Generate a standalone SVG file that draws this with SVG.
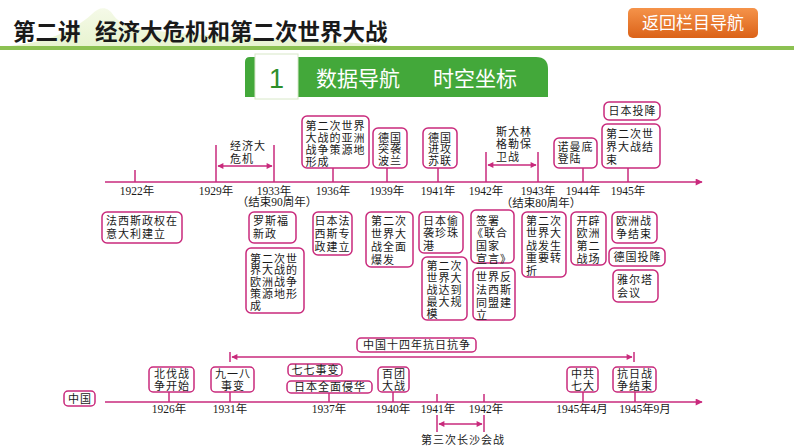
<svg xmlns="http://www.w3.org/2000/svg" width="794" height="447" viewBox="0 0 794 447">
<style>
.box{fill:#fff;stroke:#c92a7c;stroke-width:1.5}
.ln{stroke:#c92a7c;stroke-width:1.5;fill:none}
.t{font-family:"Noto Sans CJK SC","Noto Sans",sans-serif;font-size:11px;letter-spacing:1px;fill:#1a1a1a}
.tc{font-family:"Noto Sans CJK SC","Noto Sans",sans-serif;font-size:11px;letter-spacing:1px;fill:#1a1a1a;text-anchor:middle}
.yr{font-family:"Liberation Serif","Noto Sans CJK SC",serif;font-size:11.5px;fill:#1a1a1a;text-anchor:middle}
</style>
<defs>
<linearGradient id="og" x1="0" y1="0" x2="0" y2="1"><stop offset="0" stop-color="#f5934a"/><stop offset="1" stop-color="#db6218"/></linearGradient>
<linearGradient id="hg" x1="0" y1="0" x2="0" y2="1"><stop offset="0" stop-color="#eef6d8"/><stop offset="1" stop-color="#d8ecb0"/></linearGradient>
<marker id="ax" viewBox="0 0 10 10" refX="9" refY="5" markerWidth="12" markerHeight="7" markerUnits="userSpaceOnUse" orient="auto-start-reverse"><path d="M0,0 L10,5 L0,10 z" fill="#c92a7c"/></marker>
<marker id="sa" viewBox="0 0 10 10" refX="9" refY="5" markerWidth="8" markerHeight="6" markerUnits="userSpaceOnUse" orient="auto-start-reverse"><path d="M0,0 L10,5 L0,10 z" fill="#c92a7c"/></marker>
</defs>
<rect width="794" height="447" fill="#fff"/>
<g id="header">
<path d="M0,47 C40,44 70,34 92,14 C100,6 108,6 114,16 C124,30 160,32 220,36 C300,40 360,42 400,47 Z" fill="url(#hg)" opacity="0.6"/>
<rect x="0" y="46" width="794" height="4" fill="#8cc152"/>
<text x="13" y="40" font-family="Noto Sans CJK SC,sans-serif" font-weight="bold" font-size="22.5" fill="#1a1a1a">第二讲</text>
<text x="95" y="40" font-family="Noto Sans CJK SC,sans-serif" font-weight="bold" font-size="22.5" fill="#1a1a1a">经济大危机和第二次世界大战</text>
</g>
<g id="navbtn">
<rect x="628" y="8" width="130" height="30" rx="5" fill="url(#og)"/>
<text x="693" y="29" text-anchor="middle" font-family="Noto Sans CJK SC,sans-serif" font-size="17" fill="#fff">返回栏目导航</text>
</g>
<g id="section">
<path d="M245,97 L245,62 Q245,57 250,57 L536,57 Q548,57 548,69 L548,97 Z" fill="#43a83a"/>
<rect x="255" y="54" width="43" height="45" fill="#fff" stroke="#d8e8c8" stroke-width="1"/>
<text x="276.5" y="88" text-anchor="middle" font-family="Liberation Sans,sans-serif" font-size="27" fill="#2e8f2a">1</text>
<text x="316" y="86" font-family="Noto Sans CJK SC,sans-serif" font-size="21" fill="#fff">数据导航</text>
<text x="433" y="86" font-family="Noto Sans CJK SC,sans-serif" font-size="21" fill="#fff">时空坐标</text>
</g>

<g id="connectors">
<line class="ln" x1="105" y1="182" x2="702" y2="182" marker-end="url(#ax)"/>
<line class="ln" x1="135" y1="170" x2="135" y2="182"/>
<line class="ln" x1="216" y1="145" x2="216" y2="182"/>
<line class="ln" x1="274" y1="145" x2="274" y2="182"/>
<line class="ln" x1="218" y1="166" x2="272" y2="166" marker-start="url(#sa)" marker-end="url(#sa)"/>
<line class="ln" x1="333" y1="168" x2="333" y2="182"/>
<line class="ln" x1="387" y1="168" x2="387" y2="182"/>
<line class="ln" x1="438" y1="168" x2="438" y2="182"/>
<line class="ln" x1="486" y1="152" x2="486" y2="182"/>
<line class="ln" x1="538" y1="152" x2="538" y2="182"/>
<line class="ln" x1="488" y1="165" x2="536" y2="165" marker-start="url(#sa)" marker-end="url(#sa)"/>
<line class="ln" x1="583" y1="168" x2="583" y2="182"/>
<line class="ln" x1="628" y1="168" x2="628" y2="182"/>
<line class="ln" x1="105" y1="402" x2="702" y2="402" marker-end="url(#ax)"/>
<line class="ln" x1="169" y1="392" x2="169" y2="402"/>
<line class="ln" x1="230" y1="392" x2="230" y2="402"/>
<line class="ln" x1="329" y1="393" x2="329" y2="402"/>
<line class="ln" x1="393" y1="392" x2="393" y2="402"/>
<line class="ln" x1="437" y1="394" x2="437" y2="402"/>
<line class="ln" x1="484" y1="394" x2="484" y2="402"/>
<line class="ln" x1="583" y1="392" x2="583" y2="402"/>
<line class="ln" x1="635" y1="392" x2="635" y2="402"/>
<line class="ln" x1="230" y1="352" x2="230" y2="362"/>
<line class="ln" x1="634" y1="352" x2="634" y2="362"/>
<line class="ln" x1="232" y1="357" x2="632" y2="357" marker-start="url(#sa)" marker-end="url(#sa)"/>
<line class="ln" x1="437" y1="415" x2="437" y2="432"/>
<line class="ln" x1="484" y1="415" x2="484" y2="432"/>
<line class="ln" x1="439" y1="424" x2="482" y2="424" marker-start="url(#sa)" marker-end="url(#sa)"/>
</g>

<g id="years-top">
<text class="yr" x="137" y="195">1922年</text>
<text class="yr" x="216" y="195">1929年</text>
<text class="yr" x="274" y="195">1933年</text>
<text class="yr" x="333" y="195">1936年</text>
<text class="yr" x="387" y="195">1939年</text>
<text class="yr" x="438" y="195">1941年</text>
<text class="yr" x="486" y="195">1942年</text>
<text class="yr" x="538" y="195">1943年</text>
<text class="yr" x="583" y="195">1944年</text>
<text class="yr" x="628" y="195">1945年</text>
<text class="yr" x="277" y="206">（结束90周年）</text>
<text class="yr" x="541" y="207">（结束80周年）</text>
</g>
<g id="years-china">
<text class="yr" x="169" y="413">1926年</text>
<text class="yr" x="230" y="413">1931年</text>
<text class="yr" x="329" y="413">1937年</text>
<text class="yr" x="393" y="413">1940年</text>
<text class="yr" x="438" y="413">1941年</text>
<text class="yr" x="486" y="413">1942年</text>
<text class="yr" x="582" y="413">1945年4月</text>
<text class="yr" x="645" y="413">1945年9月</text>
</g>

<g id="lbl-crisis"><text class="t" x="230" y="150">经济大</text><text class="t" x="230" y="163">危机</text></g>
<g id="lbl-stalingrad"><text class="t" x="496" y="135.5">斯大林</text><text class="t" x="496" y="148">格勒保</text><text class="t" x="496" y="160.5">卫战</text></g>
<g id="lbl-changsha"><text class="tc" x="463" y="443.5">第三次长沙会战</text></g>

<g id="n1936"><rect class="box" x="302" y="116" width="67" height="52" rx="5"/><text class="t" x="305.5" y="130">第二次世界<tspan x="305.5" dy="12">大战的亚洲</tspan><tspan x="305.5" dy="12">战争策源地</tspan><tspan x="305.5" dy="12">形成</tspan></text></g>
<g id="n1939"><rect class="box" x="373" y="128" width="34" height="40" rx="5"/><text class="t" x="378" y="141.5">德国<tspan x="378" dy="11.8">突袭</tspan><tspan x="378" dy="11.8">波兰</tspan></text></g>
<g id="n1941"><rect class="box" x="423" y="128" width="34" height="40" rx="5"/><text class="t" x="428" y="141.5">德国<tspan x="428" dy="11.8">进攻</tspan><tspan x="428" dy="11.8">苏联</tspan></text></g>
<g id="n1944"><rect class="box" x="554" y="138" width="43" height="30" rx="5"/><text class="t" x="557.5" y="150.5">诺曼底<tspan x="557.5" dy="12">登陆</tspan></text></g>
<g id="n1945"><rect class="box" x="602" y="124" width="58" height="44" rx="5"/><text class="t" x="606" y="137.5">第二次世<tspan x="606" dy="13">界大战结</tspan><tspan x="606" dy="13">束</tspan></text></g>
<g id="n-jpsurrender"><rect class="box" x="604" y="102" width="56" height="18" rx="5"/><text class="tc" x="632.5" y="115">日本投降</text></g>

<g id="n-italy"><rect class="box" x="102" y="212" width="80" height="31" rx="5"/><text class="t" x="106" y="224.5">法西斯政权在<tspan x="106" dy="13">意大利建立</tspan></text></g>
<g id="n-newdeal"><rect class="box" x="249" y="212" width="47" height="31" rx="5"/><text class="t" x="253" y="225">罗斯福<tspan x="253" dy="13">新政</tspan></text></g>
<g id="n-europe-src"><rect class="box" x="246" y="248" width="58" height="65" rx="5"/><text class="t" x="250" y="262.5">第二次世<tspan x="250" dy="11.8">界大战的</tspan><tspan x="250" dy="11.8">欧洲战争</tspan><tspan x="250" dy="11.8">策源地形</tspan><tspan x="250" dy="11.8">成</tspan></text></g>
<g id="n-jpfascism"><rect class="box" x="313" y="212" width="39" height="43" rx="5"/><text class="t" x="314.5" y="224.5">日本法<tspan x="314.5" dy="13">西斯专</tspan><tspan x="314.5" dy="13">政建立</tspan></text></g>
<g id="n-fullwar"><rect class="box" x="366" y="212" width="47" height="55" rx="5"/><text class="t" x="371" y="224.5">第二次<tspan x="371" dy="13">世界大</tspan><tspan x="371" dy="13">战全面</tspan><tspan x="371" dy="13">爆发</tspan></text></g>
<g id="n-pearl"><rect class="box" x="419" y="212" width="44" height="41" rx="5"/><text class="t" x="423" y="224.5">日本偷<tspan x="423" dy="12.8">袭珍珠</tspan><tspan x="423" dy="12.8">港</tspan></text></g>
<g id="n-maxscale"><rect class="box" x="422" y="257" width="45" height="63" rx="5"/><text class="t" x="426.5" y="269.5">第二次<tspan x="426.5" dy="12">世界大</tspan><tspan x="426.5" dy="12">战达到</tspan><tspan x="426.5" dy="12">最大规</tspan><tspan x="426.5" dy="12">模</tspan></text></g>
<g id="n-undecl"><rect class="box" x="471" y="210" width="43" height="53" rx="5"/><text class="t" x="476" y="224.5">签署<tspan x="472" dy="12.8">《联合</tspan><tspan x="476" dy="12.8">国家</tspan><tspan x="476" dy="12.8">宣言》</tspan></text></g>
<g id="n-alliance"><rect class="box" x="473" y="268" width="42" height="52" rx="5"/><text class="t" x="476" y="281">世界反<tspan x="476" dy="12.8">法西斯</tspan><tspan x="476" dy="12.8">同盟建</tspan><tspan x="476" dy="12.8">立</tspan></text></g>
<g id="n-turning"><rect class="box" x="522" y="212" width="44" height="65" rx="5"/><text class="t" x="526" y="224.5">第二次<tspan x="526" dy="12.5">世界大</tspan><tspan x="526" dy="12.5">战发生</tspan><tspan x="526" dy="12.5">重要转</tspan><tspan x="526" dy="12.5">折</tspan></text></g>
<g id="n-2ndfront"><rect class="box" x="571" y="212" width="35" height="53" rx="5"/><text class="t" x="576.5" y="224.5">开辟<tspan x="576.5" dy="12.8">欧洲</tspan><tspan x="576.5" dy="12.8">第二</tspan><tspan x="576.5" dy="12.8">战场</tspan></text></g>
<g id="n-euend"><rect class="box" x="612" y="212" width="45" height="31" rx="5"/><text class="t" x="616" y="225">欧洲战<tspan x="616" dy="13">争结束</tspan></text></g>
<g id="n-desurrender"><rect class="box" x="609" y="248" width="56" height="18" rx="5"/><text class="tc" x="637.5" y="261">德国投降</text></g>
<g id="n-yalta"><rect class="box" x="613" y="270" width="45" height="32" rx="5"/><text class="t" x="617" y="284">雅尔塔<tspan x="617" dy="12.5">会议</tspan></text></g>

<g id="n-china"><rect class="box" x="64" y="391" width="31" height="15" rx="4"/><text class="tc" x="80" y="402.5">中国</text></g>
<g id="n-14yr"><rect class="box" x="357" y="338" width="119" height="14" rx="4"/><text class="tc" x="417" y="349">中国十四年抗日抗争</text></g>
<g id="n-northexp"><rect class="box" x="149" y="367" width="45" height="25" rx="4"/><text class="tc" x="172" y="378">北伐战<tspan x="172" dy="12.2">争开始</tspan></text></g>
<g id="n-918"><rect class="box" x="211" y="367" width="43" height="25" rx="4"/><text class="tc" x="233" y="378">九一八<tspan x="233" dy="12.2">事变</tspan></text></g>
<g id="n-77"><rect class="box" x="288" y="364" width="54" height="12" rx="4"/><text class="tc" x="315.5" y="374">七七事变</text></g>
<g id="n-fullinv"><rect class="box" x="287" y="381" width="85" height="12" rx="4"/><text class="tc" x="330" y="391">日本全面侵华</text></g>
<g id="n-100reg"><rect class="box" x="378" y="367" width="31" height="25" rx="4"/><text class="tc" x="394" y="378">百团<tspan x="394" dy="12.2">大战</tspan></text></g>
<g id="n-7th"><rect class="box" x="567" y="367" width="31" height="25" rx="4"/><text class="tc" x="583" y="378">中共<tspan x="583" dy="12.2">七大</tspan></text></g>
<g id="n-warend"><rect class="box" x="613" y="367" width="43" height="25" rx="4"/><text class="tc" x="635" y="378">抗日战<tspan x="635" dy="12.2">争结束</tspan></text></g>
</svg>
